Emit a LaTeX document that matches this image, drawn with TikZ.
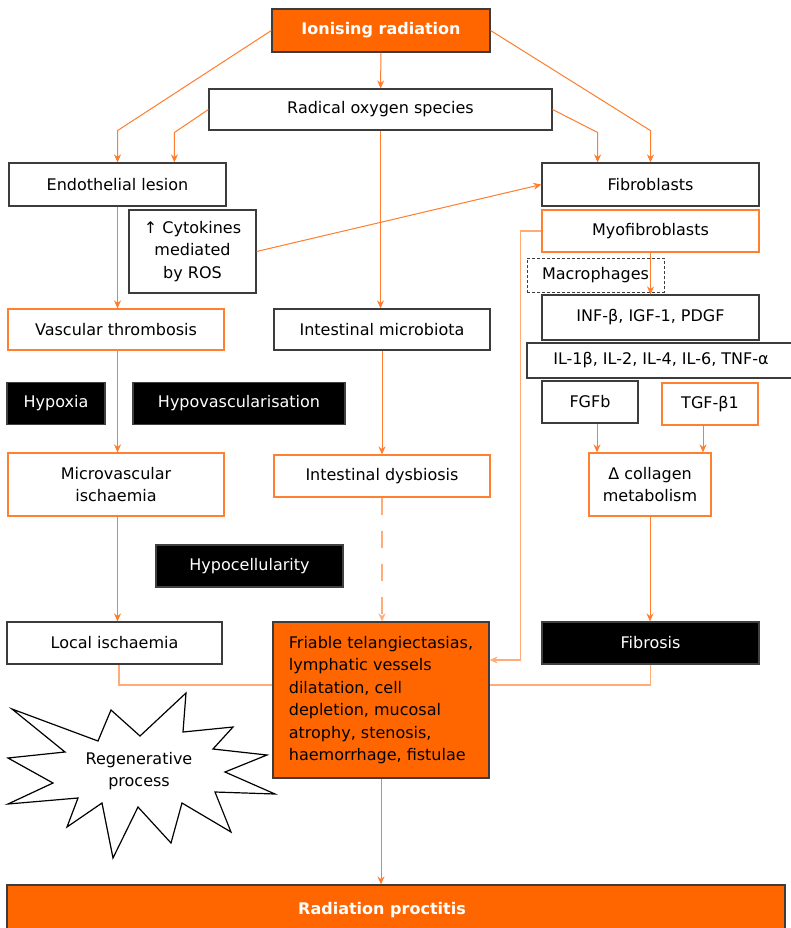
\documentclass[tikz,border=0pt]{standalone}
\usepackage{fontspec}
\setmainfont{DejaVu Sans}
\usetikzlibrary{arrows.meta}

\definecolor{procorange}{RGB}{255,102,0}
\definecolor{edgeorange}{RGB}{255,128,48}
\definecolor{linkorange}{RGB}{255,125,45}
\definecolor{paleorange}{RGB}{255,172,120}
\definecolor{boxgray}{RGB}{60,60,60}

\begin{document}
\begin{tikzpicture}[x=1pt, y=-1pt,
    plainbox/.style={draw=boxgray, line width=1.2pt, fill=white, inner sep=0pt, align=center, font=\fontsize{16}{22.4}\selectfont},
    edgebox/.style={plainbox, draw=edgeorange},
    hotbox/.style={plainbox, fill=procorange},
    darkbox/.style={plainbox, fill=black, draw=black!75, text=white},
    dashbox/.style={plainbox, dash pattern=on 3pt off 2pt, line width=1pt},
    boldtext/.style={text=white, font=\fontsize{16}{22.4}\selectfont\bfseries},
    flow/.style={draw=linkorange, line width=1pt, -{Stealth[length=8pt,width=7pt]}},
    link/.style={draw=paleorange, line width=1.2pt},
  ]
  \fill[white] (0,0) rectangle (790,928);
  \useasboundingbox (0,0) rectangle (790,928);

  % top of the cascade
  \node[hotbox, boldtext, minimum width=218, minimum height=43] (ion) at (381,30.5) {Ionising radiation};
  \node[plainbox, minimum width=343, minimum height=41] (ros) at (380.5,109.5) {Radical oxygen species};

  % left column
  \node[plainbox, minimum width=217, minimum height=43] (endo) at (117.5,184.5) {Endothelial lesion};
  \node[plainbox, minimum width=127, minimum height=83] (cyto) at (192.5,251.5) {↑ Cytokines\\mediated\\by ROS};
  \node[edgebox, minimum width=216, minimum height=41] (vasc) at (116,329.5) {Vascular thrombosis};
  \node[edgebox, minimum width=216, minimum height=63] (microv) at (116,484.5) {Microvascular\\ischaemia};
  \node[plainbox, minimum width=215, minimum height=42] (local) at (114.5,643) {Local ischaemia};

  % middle column
  \node[plainbox, minimum width=216, minimum height=41] (micro) at (382,329.5) {Intestinal microbiota};
  \node[edgebox, minimum width=216, minimum height=42] (dysb) at (382,476) {Intestinal dysbiosis};
  \node[hotbox, minimum width=216, minimum height=156, align=left] (lesion) at (381,700)
    {Friable telangiectasias,\\lymphatic vessels\\dilatation, cell\\depletion, mucosal\\atrophy, stenosis,\\haemorrhage, fistulae};

  % right column
  \node[plainbox, minimum width=217, minimum height=43] (fibro) at (650.5,184.5) {Fibroblasts};
  \node[edgebox, minimum width=217, minimum height=42] (myo) at (650.5,231) {Myofibroblasts};
  \node[dashbox, minimum width=137, minimum height=34] (macro) at (595.5,275) {Macrophages};
  \node[plainbox, minimum width=217, minimum height=45] (inf) at (650.5,317.5) {INF-β, IGF-1, PDGF};
  \node[plainbox, minimum width=268, minimum height=35] (il) at (661,360.5) {IL-1β, IL-2, IL-4, IL-6, TNF-α};
  \node[plainbox, minimum width=96, minimum height=42] (fgf) at (590,402) {FGFb};
  \node[edgebox, minimum width=96, minimum height=42] (tgf) at (710,404) {TGF-β1};
  \node[edgebox, minimum width=122, minimum height=63] (coll) at (650,484.5) {Δ collagen\\metabolism};
  \node[darkbox, minimum width=217, minimum height=42] (fibrosis) at (650.5,643) {Fibrosis};

  % black labels
  \foreach \name/\x/\y/\w/\txt in {hypoxia/56/403.5/98/Hypoxia,
      hypovasc/239/403.5/212/Hypovascularisation, hypocell/249.5/566/187/Hypocellularity} {
    \node[darkbox, minimum width=\w, minimum height=42] (\name) at (\x,\y) {\txt};
  }

  % regenerative burst
  \draw[line width=1.2pt, fill=white] (12,709) \foreach \p in {(98,741),(111,710),(140,736),(186,693),
      (183,732),(233,727),(213,749),(267,755),(225,772),(275,794),(215,792),(231,832),(182,803),
      (171,843),(138,807),(113,858),(102,803),(67,827),(78,798),(8,804),(53,783),(8,758),(65,752)} {
    -- \p } -- cycle;
  \node[font=\fontsize{16}{22.4}\selectfont, align=center] (regen) at (139,771) {Regenerative\\process};

  % outcome
  \node[hotbox, minimum width=778, minimum height=50,
    label={[xshift=-14pt, boldtext]center:Radiation proctitis}] (proct) at (396,910) {};

  % connectors
  \draw[flow] (ion) -- (ros);
  \draw[flow] (ion.west) -- (endo.north |- ros.south) -- (endo.north);
  \draw[flow] (ion.east) -- (fibro.north |- ros.south) -- (fibro.north);
  \draw[flow] (ros.west) -- ++(-34,23) coordinate (k) -- (k |- endo.north);
  \draw[flow] (ros.east) -- ++(45,23) coordinate (k) -- (k |- fibro.north);
  \draw[flow] (ros.south) -- (ros.south |- micro.north);
  \draw[flow] (cyto.east) -- (fibro.west);
  \draw[flow] (endo.south) -- (endo.south |- vasc.north);
  \draw[flow] (endo.south |- vasc.south) -- (endo.south |- microv.north);
  \draw[flow] (endo.south |- microv.south) -- (endo.south |- local.north);
  \draw[flow] (micro.south) -- (micro.south |- dysb.north);
  \draw[flow, draw=paleorange, line width=1.6pt, dash pattern=on 17pt off 16pt] (dysb.south) -- (dysb.south |- lesion.north);
  \draw[flow, draw=paleorange, line width=1.3pt] (myo.west) -- ++(-21,0) |- ([yshift=40pt]lesion.east);
  \draw[flow] (myo.south) -- (myo.south |- inf.north);
  \draw[flow] ([xshift=7pt]fgf.south) coordinate (k) -- (k |- coll.north);
  \draw[flow] ([xshift=-7pt]tgf.south) coordinate (k) -- (k |- coll.north);
  \draw[flow] (coll.south) -- (coll.south |- fibrosis.north);
  \draw[link] ([xshift=4.5pt]local.south) |- ([yshift=15pt]lesion.west);
  \draw[link] (fibrosis.south) |- ([yshift=15pt]lesion.east);
  \draw[flow] (lesion.south) -- (lesion.south |- proct.north);
\end{tikzpicture}
\end{document}
